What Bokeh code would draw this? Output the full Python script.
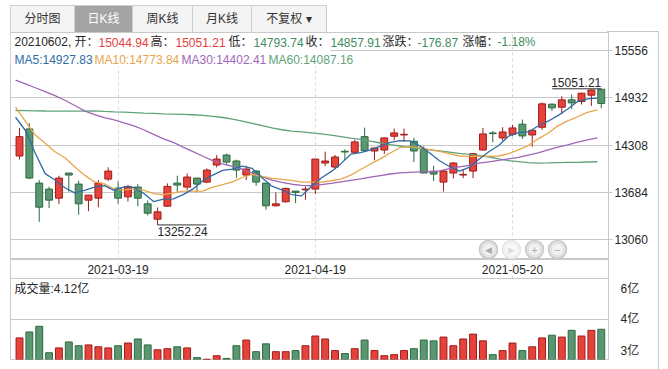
import numpy as np
from bokeh.plotting import figure
from bokeh.models import Range1d, LinearAxis, FixedTicker, Label, Div, Span, ColumnDataSource, BoxAnnotation
from bokeh.layouts import column, row
from bokeh.embed import file_html
from bokeh.resources import INLINE
from bokeh.core.properties import value

# ---------------- data ----------------
dates = ["2021-03-05", "2021-03-08", "2021-03-09", "2021-03-10", "2021-03-11", "2021-03-12",
         "2021-03-15", "2021-03-16", "2021-03-17", "2021-03-18", "2021-03-19", "2021-03-22", "2021-03-23",
         "2021-03-24", "2021-03-25", "2021-03-26", "2021-03-29", "2021-03-30", "2021-03-31", "2021-04-01",
         "2021-04-02", "2021-04-06", "2021-04-07", "2021-04-08", "2021-04-09", "2021-04-12", "2021-04-13",
         "2021-04-14", "2021-04-15", "2021-04-16", "2021-04-19", "2021-04-20", "2021-04-21", "2021-04-22",
         "2021-04-23", "2021-04-26", "2021-04-27", "2021-04-28", "2021-04-29", "2021-04-30", "2021-05-06",
         "2021-05-07", "2021-05-10", "2021-05-11", "2021-05-12", "2021-05-13", "2021-05-14", "2021-05-17",
         "2021-05-18", "2021-05-19", "2021-05-20", "2021-05-21", "2021-05-24", "2021-05-25", "2021-05-26",
         "2021-05-27", "2021-05-28", "2021-05-31", "2021-06-01", "2021-06-02"]

opens = [14163, 14521, 13805, 13726, 13606, 13938, 13792, 13580, 13606, 13858,
         13739, 13624, 13752, 13531, 13328, 13500, 13805, 13752, 13871, 13818,
         14044, 14176, 14097, 13911, 13964, 13805, 13505, 13558, 13699, 13717,
         13726, 14070, 14017, 14225, 14212, 14419, 14229, 14242, 14424, 14441,
         14357, 14247, 13955, 13818, 13938, 13911, 13964, 14242, 14468, 14402,
         14450, 14583, 14441, 14543, 14848, 14808, 14905, 14883, 14967, 15044.94]
highs = [14534, 14596, 13845, 13757, 13902, 13938, 13836, 13650, 13845, 14013,
         13827, 13779, 13792, 13576, 13483, 13801, 13902, 13933, 13871, 14000,
         14176, 14194, 14114, 14035, 13977, 13805, 13682, 13743, 13699, 13761,
         14123, 14220, 14176, 14251, 14379, 14538, 14269, 14410, 14525, 14525,
         14402, 14291, 14035, 13982, 14083, 13986, 14203, 14534, 14494, 14543,
         14574, 14644, 14503, 14870, 14856, 14954, 14976, 14998, 15042, 15051.21]
lows = [14118, 13858, 13293, 13474, 13527, 13690, 13386, 13434, 13487, 13832,
        13531, 13562, 13500, 13377, 13252.24, 13495, 13690, 13712, 13682, 13805,
        14013, 14048, 13876, 13845, 13770, 13452, 13496, 13549, 13540, 13584,
        13660, 14030, 13986, 14110, 14203, 14225, 14106, 14189, 14371, 14349,
        14083, 13938, 13832, 13695, 13867, 13871, 13871, 14238, 14344, 14366,
        14424, 14388, 14287, 14508, 14759, 14715, 14781, 14843, 14826, 14793.74]
closes = [14419, 13871, 13487, 13580, 13871, 13911, 13531, 13646, 13805, 13964,
          13606, 13761, 13606, 13408, 13425, 13761, 13779, 13885, 13792, 13977,
          14123, 14083, 13977, 13991, 13818, 13505, 13531, 13735, 13682, 13726,
          14123, 14097, 14150, 14216, 14349, 14234, 14269, 14402, 14468, 14450,
          14229, 13938, 13924, 13964, 14070, 13920, 14194, 14455, 14459, 14481,
          14534, 14428, 14503, 14852, 14799, 14905, 14865, 14993, 15034.78, 14857.91]
# volume, 亿
volumes = [3.80, 4.02, 4.23, 3.25, 3.43, 3.65, 3.51, 3.54, 3.47, 3.43,
           3.51, 3.61, 3.76, 3.54, 3.36, 3.40, 3.47, 3.43, 3.07, 3.01,
           3.14, 3.04, 3.51, 3.72, 3.29, 3.58, 3.29, 3.29, 3.33, 3.51,
           3.87, 3.76, 3.33, 3.22, 3.40, 3.72, 3.33, 3.14, 3.18, 3.33,
           3.40, 3.72, 3.69, 3.83, 3.51, 3.76, 3.94, 3.69, 3.18, 3.33,
           3.61, 3.33, 3.47, 3.80, 3.90, 3.83, 4.08, 3.87, 4.08, 4.12]

ma5 = [14675, 14500, 14200, 13930, 13846, 13744, 13676, 13708, 13753, 13771,
       13710, 13756, 13748, 13669, 13561, 13592, 13596, 13652, 13728, 13839,
       13911, 13972, 13990, 14030, 13998, 13875, 13764, 13716, 13654, 13636,
       13759, 13873, 13956, 14062, 14187, 14209, 14244, 14294, 14344, 14365,
       14364, 14297, 14202, 14101, 14025, 13963, 14014, 14121, 14220, 14302,
       14425, 14471, 14481, 14560, 14623, 14697, 14785, 14883, 14919, 14927.83]
ma10 = [14808, 14620, 14440, 14330, 14220, 14140, 14020, 13910, 13820, 13795,
        13727, 13716, 13728, 13711, 13666, 13651, 13676, 13700, 13699, 13700,
        13752, 13784, 13821, 13879, 13919, 13893, 13868, 13853, 13842, 13817,
        13817, 13819, 13836, 13858, 13911, 13984, 14058, 14125, 14203, 14276,
        14286, 14271, 14248, 14223, 14195, 14163, 14156, 14161, 14160, 14163,
        14194, 14243, 14301, 14390, 14463, 14561, 14628, 14682, 14740, 14773.84]
ma30 = [15165, 15115, 15065, 15015, 14960, 14900, 14830, 14760, 14710, 14670,
        14640, 14600, 14560, 14510, 14450, 14390, 14344, 14280, 14220, 14160,
        14101, 14060, 14026, 13990, 13935, 13890, 13845, 13815, 13790, 13775,
        13770, 13785, 13800, 13820, 13840, 13860, 13885, 13905, 13925, 13940,
        13946, 13952, 13958, 13965, 13995, 14020, 14040, 14070, 14085, 14105,
        14125, 14145, 14175, 14205, 14245, 14280, 14310, 14345, 14375, 14402.41]
ma60 = [14764, 14762, 14760, 14758, 14757, 14756, 14755, 14757, 14759, 14752,
        14746, 14742, 14736, 14730, 14725, 14720, 14716, 14712, 14708, 14700,
        14688, 14672, 14650, 14625, 14595, 14565, 14535, 14510, 14492, 14482,
        14470, 14455, 14440, 14420, 14400, 14382, 14360, 14335, 14312, 14295,
        14278, 14260, 14245, 14230, 14215, 14198, 14185, 14170, 14150, 14125,
        14102, 14090, 14075, 14070, 14072, 14076, 14078, 14080, 14084, 14087.16]

price_ticks = [13060, 13684, 14308, 14932, 15556]
date_ticks = ["2021-03-19", "2021-04-19", "2021-05-20"]
vol_grid_tick = 4.5
vol_tick_text = ["6亿", "4亿", "3亿"]
vol_scale_top = 6.0
tabs = ["分时图", "日K线", "周K线", "月K线", "不复权 ▾"]
selected_tab = "日K线"
nav_symbols = ["◀", "▶", "+", "−"]

# ---------------- style / geometry ----------------
FONT = "Liberation Sans, Noto Sans CJK SC"
DARK = "#262626"
RED_FILL, RED_LINE = "#e5423a", "#a01b1b"
GRN_FILL, GRN_LINE = "#5b9672", "#2c6a3e"
TXT_RED, TXT_GRN = "#e5403c", "#3f8d5e"
MA_COLORS = ["#2e6ca6", "#e8a64c", "#9e66b6", "#5fa27a"]
GRID = "#c8c8c8"

LEFT = 10
FRAME_W = 598
RIGHT = 50
W = LEFT + FRAME_W + RIGHT
TOP = 32
PRICE_H = 227
VOL_FRAME_H = 100
VOL_BOTTOM = 10
XMIN = -0.913
XMAX = XMIN + FRAME_W / 9.86
PTOP = 15795.0
PBOT = PTOP - PRICE_H * 13.214
VBOT = 3.0
VTOP = VBOT + VOL_FRAME_H / 27.0
VOL_TOP_PX = TOP + PRICE_H


def px_x(px):
    return XMIN + (px - LEFT) * (XMAX - XMIN) / FRAME_W


def py_price(py):
    return PTOP - (py - TOP) * (PTOP - PBOT) / PRICE_H


def py_vol(py):
    return VTOP - (py - VOL_TOP_PX) * (VTOP - VBOT) / VOL_FRAME_H


idx = np.arange(len(dates))
up = [c >= o for o, c in zip(opens, closes)]
src = ColumnDataSource(dict(
    x=idx,
    top=[max(o, c) for o, c in zip(opens, closes)],
    bottom=[min(o, c) for o, c in zip(opens, closes)],
    high=highs, low=lows, vol=volumes,
    fill=[RED_FILL if u else GRN_FILL for u in up],
    line=[RED_LINE if u else GRN_LINE for u in up],
))
date_idx = [dates.index(d) for d in date_ticks]

# ---------------- price figure ----------------
pf = figure(width=W, height=PRICE_H, x_range=Range1d(XMIN, XMAX), y_range=Range1d(PBOT, PTOP),
            output_backend="svg", toolbar_location=None, tools="",
            x_axis_location=None, y_axis_location=None,
            min_border_left=LEFT, min_border_right=RIGHT, min_border_top=0, min_border_bottom=0,
            outline_line_color=GRID, background_fill_color="white", border_fill_color="white")
pf.ygrid.ticker = FixedTicker(ticks=price_ticks)
pf.ygrid.grid_line_color = GRID
pf.xgrid.ticker = FixedTicker(ticks=date_idx)
pf.xgrid.grid_line_color = "#d9d9d9"
pf.xgrid.grid_line_dash = "3 3"

pax = LinearAxis(ticker=FixedTicker(ticks=price_ticks), axis_line_color=GRID,
                 major_tick_line_color=GRID, major_tick_out=4, major_tick_in=0,
                 minor_tick_line_color=None, major_label_standoff=2,
                 major_label_text_font=FONT, major_label_text_font_size="12px",
                 major_label_text_color=DARK)
pf.add_layout(pax, "right")

pf.segment(x0="x", y0="low", x1="x", y1="high", line_color="line", line_width=1, source=src)
pf.vbar(x="x", width=0.7, top="top", bottom="bottom", fill_color="fill", line_color="line",
        line_width=1, source=src)

for ma, col in zip([ma60, ma30, ma10, ma5], [MA_COLORS[3], MA_COLORS[2], MA_COLORS[1], MA_COLORS[0]]):
    pf.line(x=idx - 0.4, y=ma, line_color=col, line_width=1.3)

# high / low annotations
imax = int(np.argmax(highs))
imin = int(np.argmin(lows))
seg_w = 49 / 9.86
pf.segment(x0=[imax - seg_w], x1=[imax], y0=[highs[imax]], y1=[highs[imax]], line_color="#333333", line_width=1)
pf.text(x=[imax], y=[highs[imax]], text=[f"{highs[imax]:.2f}"], text_align="right", text_baseline="bottom",
        y_offset=-2, text_font=value(FONT), text_font_size="12px", text_color=DARK)
pf.segment(x0=[imin], x1=[imin + seg_w], y0=[lows[imin]], y1=[lows[imin]], line_color="#333333", line_width=1)
pf.text(x=[imin], y=[lows[imin]], text=[f"{lows[imin]:.2f}"], text_align="left", text_baseline="top",
        y_offset=2, text_font=value(FONT), text_font_size="12px", text_color=DARK)

# header box (white background behind the info rows)
pf.add_layout(BoxAnnotation(left=px_x(LEFT), right=px_x(330), top=py_price(TOP + 1), bottom=py_price(66),
                            fill_color="white", fill_alpha=1.0, line_color=None))

# header rows
prev_close = closes[-2]
chg = closes[-1] - prev_close
pct = chg / prev_close * 100


def updown(v):
    return TXT_RED if v >= prev_close else TXT_GRN


hdr1 = [(f"{dates[-1].replace('-', '')}, 开：", DARK, 14),
        (f"{opens[-1]:.2f}", updown(opens[-1]), 98),
        ("高：", DARK, 150), (f"{highs[-1]:.2f}", updown(highs[-1]), 175),
        ("低：", DARK, 228), (f"{lows[-1]:.2f}", updown(lows[-1]), 253),
        ("收：", DARK, 305), (f"{closes[-1]:.2f}", updown(closes[-1]), 330),
        ("涨跌：", DARK, 382), (f"{chg:.2f}", TXT_RED if chg >= 0 else TXT_GRN, 417),
        ("涨幅：", DARK, 462), (f"{pct:.2f}%", TXT_RED if chg >= 0 else TXT_GRN, 497)]
for txt, col, px in hdr1:
    pf.add_layout(Label(x=px_x(px), y=py_price(41.5), text=txt, text_color=col, text_font=FONT,
                        text_font_size="12px", text_baseline="middle", text_align="left"))
hdr2 = [(f"MA5:{ma5[-1]:.2f}", MA_COLORS[0], 14), (f"MA10:{ma10[-1]:.2f}", MA_COLORS[1], 94),
        (f"MA30:{ma30[-1]:.2f}", MA_COLORS[2], 181), (f"MA60:{ma60[-1]:.2f}", MA_COLORS[3], 268)]
for txt, col, px in hdr2:
    pf.add_layout(Label(x=px_x(px), y=py_price(59.5), text=txt, text_color=col, text_font=FONT,
                        text_font_size="12px", text_baseline="middle", text_align="left"))

# navigation buttons (round icons)
nav_px = [488, 511, 534, 557]
nav_dim = [False, True, False, False]
nav_x = [px_x(p) for p in nav_px]
nav_y = [py_price(249)] * 4
pf.scatter(x=nav_x, y=nav_y, size=18, marker="circle",
           fill_color=["#f2f2f2" if d else "#e2e2e2" for d in nav_dim],
           line_color=["#e6e6e6" if d else "#c9c9c9" for d in nav_dim], line_width=1.5)
pf.scatter(x=nav_x, y=nav_y, size=11, marker="circle",
           fill_color=["#f9f9f9" if d else "#f2f2f2" for d in nav_dim], line_color=None)
pf.text(x=nav_x, y=nav_y, text=nav_symbols, text_align="center", text_baseline="middle",
        text_font=value("DejaVu Sans"), text_font_size="9px",
        text_color=["#dedede" if d else "#a9a9a9" for d in nav_dim])

# ---------------- volume figure ----------------
vf = figure(width=W, height=VOL_FRAME_H + VOL_BOTTOM, x_range=pf.x_range, y_range=Range1d(VBOT, VTOP),
            output_backend="svg", toolbar_location=None, tools="",
            x_axis_location=None, y_axis_location=None,
            min_border_left=LEFT, min_border_right=RIGHT, min_border_top=0, min_border_bottom=VOL_BOTTOM,
            outline_line_color=GRID, background_fill_color="white", border_fill_color="white")
vf.ygrid.ticker = FixedTicker(ticks=[vol_grid_tick])
vf.ygrid.grid_line_color = GRID
vf.xgrid.visible = False
# axis labels sit inside the panel: top / middle gridline / bottom
vol_label_pos = [round(py_vol(289), 4), vol_grid_tick, round(py_vol(350), 4)]
vax = LinearAxis(ticker=FixedTicker(ticks=vol_label_pos), axis_line_color=GRID,
                 major_tick_line_color=None, minor_tick_line_color=None, major_label_standoff=6,
                 major_label_overrides=dict(zip(vol_label_pos, vol_tick_text)),
                 major_label_text_font=FONT, major_label_text_font_size="12px",
                 major_label_text_color=DARK)
vf.add_layout(vax, "right")
vf.add_layout(Span(location=vol_scale_top, dimension="width", line_color=GRID, line_width=1))
vf.segment(x0=date_idx, x1=date_idx, y0=[vol_scale_top] * 3, y1=[VTOP] * 3,
           line_color="#d9d9d9", line_dash="3 3")
vf.text(x=date_idx, y=[py_vol(268.5)] * 3, text=date_ticks, text_align="center", text_baseline="middle",
        text_font=value(FONT), text_font_size="12px", text_color=DARK)
vf.vbar(x="x", width=0.7, top="vol", bottom=0, fill_color="fill", line_color="line", line_width=1, source=src)
vf.add_layout(Label(x=px_x(14), y=py_vol(288.5), text=f"成交量:{volumes[-1]:.2f}亿", text_color=DARK,
                    text_font=FONT, text_font_size="12px", text_baseline="middle"))

# ---------------- tab bar ----------------
tab_pos = [(10, 64), (74, 58), (132, 60), (192, 59), (251, 75)]
html = (f'<div style="position:relative;width:{W}px;height:{TOP}px;'
        'font-family:Liberation Sans, Noto Sans CJK SC, sans-serif;font-size:12px;">')
for name, (l, w) in zip(tabs, tab_pos):
    sel = name == selected_tab
    html += (f'<div style="position:absolute;left:{l}px;top:5px;width:{w + 1}px;height:{TOP - 5}px;'
             f'box-sizing:border-box;border:1px solid #cfcfcf;border-bottom:none;'
             f'background:{"#a4a4a4" if sel else "#f4f4f4"};color:{"#ffffff" if sel else "#333333"};'
             f'text-align:center;line-height:{TOP - 6}px;">{name}</div>')
html += (f'<div style="position:absolute;left:{LEFT + FRAME_W - 1}px;top:{TOP - 1}px;width:{RIGHT + 2}px;'
         'height:1px;background:#c8c8c8"></div>')
html += '</div>'
tab_div = Div(text=html, width=W + 1, height=TOP, margin=0)

vline = Div(text=f'<div style="width:1px;height:{PRICE_H + VOL_FRAME_H + VOL_BOTTOM}px;background:#c8c8c8"></div>',
            width=1, height=PRICE_H + VOL_FRAME_H + VOL_BOTTOM, margin=0)

layout = column(tab_div, row(column(pf, vf), vline))
open("out.html", "w").write(file_html(layout, INLINE))
